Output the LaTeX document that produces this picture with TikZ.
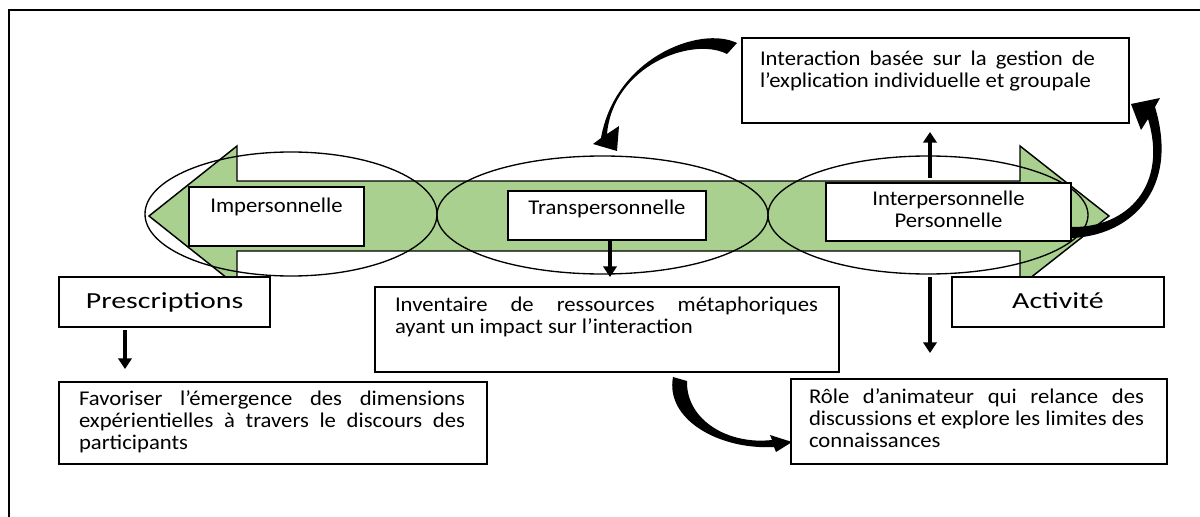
\documentclass[tikz,border=0pt]{standalone}
\usepackage{fontspec}
\setmainfont{Carlito}
\newfontfamily\bodyfont[FakeStretch=1.08]{Carlito}
\newfontfamily\headfont[FakeStretch=1.3]{Carlito}
\usetikzlibrary{arrows.meta}
\definecolor{leaf}{RGB}{169,208,142}

\tolerance=10000 \hbadness=10000 \vbadness=10000 \hfuzz=3pt

% justified card: width, height, left skip, right skip, first baseline, text
\newcommand{\jcard}[6]{\begin{minipage}[c][#2][t]{#1}\bodyfont\fontsize{15.75pt}{16.7pt}\selectfont
  \leftskip=#3\relax\rightskip=#4\relax\parindent=0pt\noindent\rule{0pt}{#5}#6\par\end{minipage}}
% centred card: width, height, first baseline, text
\newcommand{\ccard}[4]{\begin{minipage}[c][#2][t]{#1}\bodyfont\fontsize{15.75pt}{16.9pt}\selectfont
  \centering\rule{0pt}{#3}#4\par\end{minipage}}
% centred card with the large heading face
\newcommand{\hcard}[4]{\begin{minipage}[c][#2][t]{#1}\headfont\fontsize{17.25pt}{20pt}\selectfont
  \centering\rule{0pt}{#3}#4\par\end{minipage}}

\tikzset{
  card/.style={draw, line width=1.5pt, fill=white, inner sep=0pt, outer sep=0pt, anchor=north west},
  ring/.style={draw, line width=1pt},
  conn/.style={line width=2.6pt, -{Triangle[length=8pt,width=10pt]}},
  swoop/.style={fill=black}
}

\begin{document}
\begin{tikzpicture}[x=0.75pt,y=-0.75pt]
\useasboundingbox (0,0) rectangle (1200,517);

% outer frame
\draw[line width=1.5pt] (9,517) -- (9,10) -- (1200,10);

% double-headed green band
\draw[fill=leaf, line width=1.1pt, line join=miter]
  (149,216) -- (237,146) -- (237,181) -- (1020,181) -- (1020,146) -- (1109,216)
  -- (1020,286) -- (1020,251) -- (237,251) -- (237,286) -- cycle;

% the three ellipses
\draw[ring] (291,214) ellipse [x radius=146, y radius=62];
\draw[ring] (602.5,215) ellipse [x radius=165.5, y radius=59];
\draw[ring] (928,215) ellipse [x radius=160, y radius=59];

% boxes
\node[card] (imper) at (189,187) {\ccard{131.25pt}{44.25pt}{18.75pt}{Impersonnelle}};
\node[card] (trans) at (508,191) {\ccard{148.5pt}{36.75pt}{17.25pt}{Transpersonnelle}};
\node[card] (interp) at (826,183) {\ccard{183.75pt}{43.5pt}{16.5pt}{Interpersonnelle\\Personnelle}};
\node[card] (inter) at (742,38) {\jcard{290.25pt}{63.75pt}{13.5pt}{25.5pt}{20.25pt}{Interaction basée sur la gestion de\linebreak l’explication individuelle et groupale}};
\node[card] (presc) at (59,277) {\hcard{158.25pt}{37.5pt}{23.25pt}{Prescriptions}};
\node[card] (activ) at (952,277) {\hcard{159pt}{37.5pt}{23.25pt}{Activité}};
\node[card] (inv) at (375,287) {\jcard{348pt}{63.75pt}{15pt}{15.75pt}{18pt}{Inventaire de ressources métaphoriques\linebreak ayant un impact sur l’interaction}};
\node[card] (fav) at (59,382) {\jcard{321pt}{61.5pt}{15pt}{16.5pt}{17.25pt}{Favoriser l’émergence des dimensions\linebreak expérientielles à travers le discours des\linebreak participants}};
\node[card] (role) at (791,379) {\jcard{282pt}{63.75pt}{13.5pt}{17.25pt}{18pt}{Rôle d’animateur qui relance des\linebreak discussions et explore les limites des\linebreak connaissances}};

% straight connectors
\coordinate (p1) at (125,330);  \coordinate (p2) at (125,369);
\coordinate (t1) at (610,241);  \coordinate (t2) at (610,277);
\coordinate (u1) at (930,178);  \coordinate (u2) at (930,132);
\coordinate (d1) at (930,277);  \coordinate (d2) at (930,353);
\draw[conn] (p1) -- (p2);
\draw[conn] (t1) -- (t2);
\draw[conn] (u1) -- (u2);
\draw[conn] (d1) -- (d2);

% tapered curved arrows
\fill[swoop] (737,43) .. controls (700,25) and (615,58) .. (601,138)
  -- (593,144) -- (617,151) -- (619,126) -- (607,134)
  .. controls (613,66) and (692,36) .. (727,54) -- cycle;
\fill[swoop] (1071,238) .. controls (1130,236) and (1180,190) .. (1155,107)
  -- (1160,98) -- (1131,104) -- (1141,130) -- (1148,119)
  .. controls (1168,185) and (1128,228) .. (1071,227) -- cycle;
\fill[swoop] (673,377) .. controls (665,420) and (720,450) .. (774,447)
  -- (776,452) -- (792,442) -- (770,435) -- (772,440)
  .. controls (728,445) and (686,420) .. (687,381) -- cycle;
\end{tikzpicture}
\end{document}
